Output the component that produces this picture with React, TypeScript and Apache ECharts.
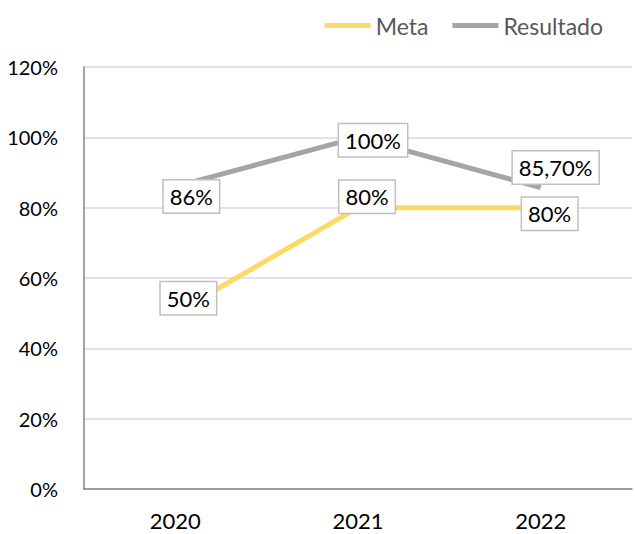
import React, { useEffect, useRef } from "react";
import * as echarts from "echarts";

const categories = ["2020", "2021", "2022"];
const metaValues = [50, 80, 80];
const resultadoValues = [86, 100, 85.7];
const metaLabels = ["50%", "80%", "80%"];
const resultadoLabels = ["86%", "100%", "85,70%"];
const yTicks = { min: 0, max: 120, interval: 20 };

const metaOffsets: [number, number][] = [[13, -15], [9, -11], [9, 6]];
const resultadoOffsets: [number, number][] = [[16, 10], [15, 3], [15, -20]];

const FONT = "Lato, 'Open Sans', sans-serif";

const labelBox = {
  show: true,
  position: "inside",
  color: "#000",
  fontFamily: FONT,
  fontSize: 22,
  backgroundColor: "#fff",
  borderColor: "#bfbfbf",
  borderWidth: 1.5,
  padding: [6, 6, 4, 6],
};

export default function App() {
  const ref = useRef<HTMLDivElement>(null);
  useEffect(() => {
    const chart = echarts.init(ref.current!, null, { renderer: "svg" });
    chart.setOption({
      animation: false,
      legend: {
        top: 9,
        right: 27,
        icon: "rect",
        itemWidth: 46,
        itemHeight: 5,
        itemGap: 24,
        textStyle: { color: "#595959", fontFamily: FONT, fontSize: 23 },
        data: ["Meta", "Resultado"],
      },
      grid: { left: 84, right: 3, top: 67, bottom: 45, containLabel: false },
      xAxis: {
        type: "category",
        data: categories,
        boundaryGap: true,
        axisLine: { show: true, lineStyle: { color: "#868686", width: 1.5 } },
        axisTick: { show: false },
        axisLabel: { color: "#000", fontFamily: FONT, fontSize: 22, margin: 20 },
        splitLine: { show: false },
      },
      yAxis: {
        type: "value",
        min: yTicks.min,
        max: yTicks.max,
        interval: yTicks.interval,
        axisLine: { show: true, lineStyle: { color: "#868686", width: 1.5 } },
        axisTick: { show: false },
        axisLabel: {
          color: "#000",
          fontFamily: FONT,
          fontSize: 20,
          margin: 26,
          formatter: "{value}%",
        },
        splitLine: { show: true, lineStyle: { color: "#d9d9d9", width: 1.5 } },
      },
      series: [
        {
          name: "Meta",
          type: "line",
          data: metaValues.map((v, i) => ({
            value: v,
            label: { ...labelBox, offset: metaOffsets[i], formatter: metaLabels[i] },
          })),
          symbol: "circle",
          symbolSize: 0,
          showSymbol: true,
          lineStyle: { color: "#ffd966", width: 5 },
          itemStyle: { color: "#ffd966" },
          z: 2,
        },
        {
          name: "Resultado",
          type: "line",
          data: resultadoValues.map((v, i) => ({
            value: v,
            label: { ...labelBox, offset: resultadoOffsets[i], formatter: resultadoLabels[i] },
          })),
          symbol: "circle",
          symbolSize: 0,
          showSymbol: true,
          lineStyle: { color: "#a5a5a5", width: 5 },
          itemStyle: { color: "#a5a5a5" },
          z: 3,
        },
      ],
    });
    return () => chart.dispose();
  }, []);
  return <div ref={ref} style={{ width: 635, height: 534, position: "absolute", left: 0, top: 0 }} />;
}
